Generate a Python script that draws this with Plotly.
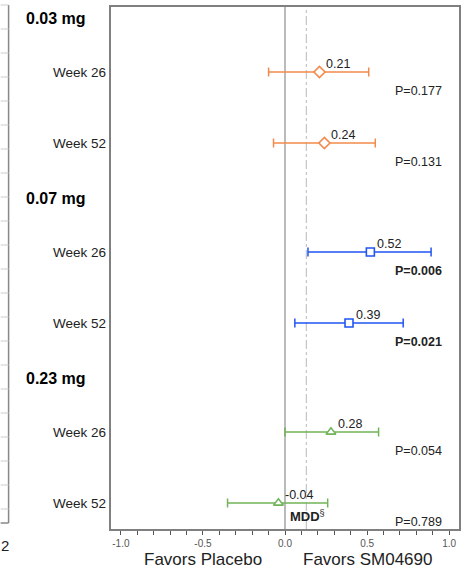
import plotly.graph_objects as go

# ---- data ----
groups = ["0.03 mg", "0.07 mg", "0.23 mg"]
weeks = ["Week 26", "Week 52"]
estimates = [[0.21, 0.24], [0.52, 0.39], [0.28, -0.04]]
ci_low = [[-0.10, -0.07], [0.14, 0.06], [0.00, -0.35]]
ci_high = [[0.51, 0.55], [0.89, 0.72], [0.57, 0.26]]
p_values = [["P=0.177", "P=0.131"], ["P=0.006", "P=0.021"], ["P=0.054", "P=0.789"]]
p_bold = [[False, False], [True, True], [False, False]]
mdd_value = 0.13
x_ticks = [-1.0, -0.5, 0.0, 0.5, 1.0]

# ---- style ----
colors = ["#F28A4C", "#2156F2", "#72B45A"]
symbols = ["diamond", "square", "triangle-up"]
msizes = [8.5, 8, 8.5]
FONT = "Arial, Liberation Sans, sans-serif"

W, H = 466, 569
L, R, T, B = 111, 5, 7, 40
plot_h = H - T - B  # y units = pixels
pw = W - L - R
group_step = 180
header_off = 11
week_off = [65, 136]

fig = go.Figure()
annotations = []
for g, grp in enumerate(groups):
    base = g * group_step
    ys = [base + week_off[w] for w in range(2)]
    fig.add_trace(go.Scatter(
        x=estimates[g], y=ys, mode="markers",
        marker=dict(symbol=symbols[g], size=msizes[g], color="white",
                    line=dict(color=colors[g], width=1.6)),
        error_x=dict(type="data", symmetric=False,
                     array=[ci_high[g][i] - estimates[g][i] for i in range(2)],
                     arrayminus=[estimates[g][i] - ci_low[g][i] for i in range(2)],
                     color=colors[g], thickness=1.5, width=4.5),
        showlegend=False, hoverinfo="skip"))
    annotations.append(dict(xref="paper", yref="y", x=(24 - L) / pw, y=base + header_off,
                            text="<b>%s</b>" % grp, showarrow=False, xanchor="left", yanchor="middle",
                            font=dict(size=16, color="black", family=FONT)))
    for w in range(2):
        annotations.append(dict(xref="paper", yref="y", x=-3 / pw, y=ys[w],
                                text=weeks[w], showarrow=False, xanchor="right", yanchor="middle",
                                font=dict(size=13.5, color="#222", family=FONT)))
        val = estimates[g][w]
        annotations.append(dict(xref="x", yref="y", x=val, y=ys[w], text="%.2f" % val,
                                showarrow=False, xanchor="left", yanchor="bottom", xshift=5, yshift=-1,
                                font=dict(size=12.5, color="#222", family=FONT)))
        ptxt = "<b>%s</b>" % p_values[g][w] if p_bold[g][w] else p_values[g][w]
        annotations.append(dict(xref="paper", yref="y", x=(446 - L) / pw, y=ys[w] + 18.5,
                                text=ptxt, showarrow=False, xanchor="right", yanchor="middle",
                                font=dict(size=12.5, color="#222", family=FONT)))

annotations.append(dict(xref="x", yref="y", x=0.02, y=509, text="<b>MDD</b><sup>§</sup>",
                        showarrow=False, xanchor="left", yanchor="middle",
                        font=dict(size=13, color="#222", family=FONT)))
annotations.append(dict(xref="x", yref="paper", x=-0.5, y=-30 / plot_h, text="Favors Placebo",
                        showarrow=False, xanchor="center", yanchor="middle",
                        font=dict(size=17, color="#222", family=FONT)))
annotations.append(dict(xref="x", yref="paper", x=0.5, y=-30 / plot_h, text="Favors SM04690",
                        showarrow=False, xanchor="center", yanchor="middle",
                        font=dict(size=17, color="#222", family=FONT)))
# cropped neighbour panel fragment on the left
annotations.append(dict(xref="paper", yref="paper", x=(4 - L) / pw, y=-(545 - (H - B)) / plot_h,
                        text="2", showarrow=False, xanchor="center", yanchor="middle",
                        font=dict(size=15, color="#222", family=FONT)))

shapes = [
    dict(type="line", xref="x", yref="paper", x0=0, x1=0, y0=0, y1=1,
         line=dict(color="#AAAAAA", width=1.6), layer="below"),
    dict(type="line", xref="x", yref="paper", x0=mdd_value, x1=mdd_value, y0=0, y1=1,
         line=dict(color="#C4C4C4", width=1.2, dash="dashdot"), layer="below"),
]
sx = (8 - L) / pw
shapes.append(dict(type="line", xref="paper", yref="paper", x0=sx, x1=sx,
                   y0=(H - B - 523) / plot_h, y1=(H - B - 5) / plot_h,
                   line=dict(color="#888888", width=1.5)))
shapes.append(dict(type="line", xref="paper", yref="paper", x0=(0 - L) / pw, x1=sx,
                   y0=(H - B - 523) / plot_h, y1=(H - B - 523) / plot_h,
                   line=dict(color="#888888", width=1.5)))
for k in range(22):
    py = 5 + 24 * k
    if py > 520:
        break
    shapes.append(dict(type="line", xref="paper", yref="paper", x0=(0 - L) / pw, x1=sx,
                       y0=(H - B - py) / plot_h, y1=(H - B - py) / plot_h,
                       line=dict(color="#CCCCCC", width=1)))

fig.update_layout(
    width=W, height=H, margin=dict(l=L, r=R, t=T, b=B),
    paper_bgcolor="white", plot_bgcolor="white",
    annotations=annotations, shapes=shapes,
    xaxis=dict(range=[-1.06, 1.06], tickvals=x_ticks, ticktext=["%.1f" % v for v in x_ticks],
               ticks="outside", ticklen=4, tickcolor="#555", tickwidth=1,
               minor=dict(dtick=0.1, tick0=0, ticks="outside", ticklen=4, tickcolor="#555", tickwidth=1),
               showgrid=False, zeroline=False, showline=True, linecolor="#808080", linewidth=2,
               mirror=True, tickfont=dict(size=10, color="#555", family=FONT)),
    yaxis=dict(range=[plot_h, 0], showticklabels=False, ticks="", showgrid=False, zeroline=False,
               showline=True, linecolor="#808080", linewidth=2, mirror=True),
)

fig.write_html("out.html", config={"displayModeBar": False},
               post_script="document.body.style.margin='0';document.body.style.padding='0';"
                           "document.documentElement.style.overflow='hidden';")
